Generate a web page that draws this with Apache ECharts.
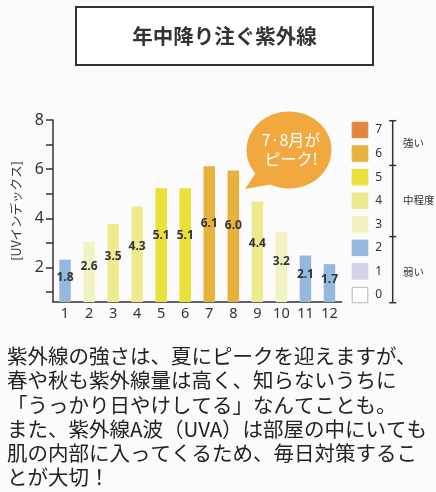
<!DOCTYPE html>
<html>
<head>
<meta charset="utf-8">
<script src="https://cdn.jsdelivr.net/npm/echarts@6/dist/echarts.min.js"></script>
<style>
html,body{margin:0;padding:0;background:#fbfbfb;}
#main{width:436px;height:492px;}
</style>
</head>
<body>
<div id="main"></div>
<script>
// ---- data ----
const months = ['1','2','3','4','5','6','7','8','9','10','11','12'];
// drawn bar heights (UV index scale)
const barHeights = [2.32, 3.05, 3.78, 4.48, 5.23, 5.23, 6.12, 5.95, 4.69, 3.44, 2.49, 2.14];
// printed values on the bars
const uvLabels = ['1.8','2.6','3.5','4.3','5.1','5.1','6.1','6.0','4.4','3.2','2.1','1.7'];
const yTickValues = [1,2,3,4,5,6,7,8];
const yLabelValues = [2,4,6,8];
const levelNames = ['0','1','2','3','4','5','6','7'];
const levelColors = ['#ffffff','#d3d3e8','#94b8de','#f4f2c0','#edea8e','#eae03a','#e7b23c','#e2843a'];
const levelBands = ['強い','中程度','弱い'];
const titleText = '年中降り注ぐ紫外線';
const axisName = '[UVインデックス]';
const bubbleText = '7·8月が\nピーク!';
const bodyLines = [
  '紫外線の強さは、夏にピークを迎えますが、',
  '春や秋も紫外線量は高く、知らないうちに',
  '「うっかり日やけしてる」なんてことも。',
  'また、紫外線A波（UVA）は部屋の中にいても',
  '肌の内部に入ってくるため、毎日対策するこ',
  'とが大切！'
];

const chart = echarts.init(document.getElementById('main'), null, {renderer:'canvas'});
const txt = '#333';
const sans = '"Noto Sans","Noto Sans CJK JP",sans-serif';
const cjk = '"Noto Sans CJK JP","Noto Sans",sans-serif';

const barData = barHeights.map((v,i)=>({
  value: v,
  itemStyle: {color: levelColors[Math.round(parseFloat(uvLabels[i]))]}
}));
const legendData = levelNames.map((n,i)=>({
  value: 1,
  itemStyle: {color: levelColors[i], borderColor: i===0 ? '#b5b5b5' : levelColors[i], borderWidth: 1}
}));

const bx = 392.7;
const bracketYs = [120.7, 165.4, 236.6, 302.7];

const option = {
  backgroundColor: '#fbfbfb',
  animation: false,
  grid: [
    {left: 53, right: 94.5, top: 120, bottom: 190},
    {left: 351.7, right: 67.7, top: 118.2, bottom: 185.2}
  ],
  xAxis: [
    {
      type: 'category', gridIndex: 0, data: months,
      axisTick: {show: false},
      axisLine: {lineStyle: {color: '#333', width: 1.5}},
      axisLabel: {color: txt, fontSize: 14.5, fontFamily: sans, margin: 5}
    },
    {type: 'value', gridIndex: 1, min: 0, max: 1, show: false}
  ],
  yAxis: [
    {
      type: 'value', gridIndex: 0, min: 0.6, max: 8,
      name: axisName, nameLocation: 'middle', nameGap: 30, nameRotate: 90,
      nameTextStyle: {color: txt, fontSize: 12.5, fontFamily: cjk},
      splitLine: {show: false},
      axisLine: {show: true, lineStyle: {color: '#333', width: 1.5}},
      axisTick: {show: true, length: 7, customValues: yTickValues, lineStyle: {color: '#333', width: 1.5}},
      axisLabel: {customValues: yLabelValues, color: txt, fontSize: 16, fontFamily: sans, margin: 9}
    },
    {
      type: 'category', gridIndex: 1, data: levelNames, position: 'right',
      axisLine: {show: false}, axisTick: {show: false},
      axisLabel: {color: txt, fontSize: 12, fontFamily: sans, margin: 7}
    }
  ],
  series: [
    {
      type: 'bar', xAxisIndex: 0, yAxisIndex: 0, data: barData, barWidth: 11.5,
      label: {
        show: true, position: ['50%','42%'], align: 'center', verticalAlign: 'middle',
        formatter: p => uvLabels[p.dataIndex],
        color: '#333', fontSize: 12, fontWeight: 'bold',
        fontFamily: '"Liberation Sans Narrow","Noto Sans",sans-serif'
      }
    },
    {
      type: 'bar', xAxisIndex: 1, yAxisIndex: 1, data: legendData, barWidth: 16.5, silent: true
    }
  ],
  graphic: [
    {type: 'rect', shape: {x: 76, y: 7, width: 297, height: 58},
     style: {fill: '#ffffff', stroke: '#333', lineWidth: 2}},
    {type: 'text', x: 224.5, y: 36,
     style: {text: titleText, fill: '#333', fontSize: 20.5, fontWeight: 'bold', fontFamily: cjk,
             align: 'center', verticalAlign: 'middle'}},
    // speech bubble
    {type: 'polygon', shape: {points: [[245,189],[257,171],[273,184]]}, style: {fill: '#f1a83e'}},
    {type: 'ellipse', shape: {cx: 289, cy: 150, rx: 42.5, ry: 38.5}, style: {fill: '#f1a83e'}},
    {type: 'text', x: 291, y: 149,
     style: {text: bubbleText, fill: '#fff', fontSize: 16, lineHeight: 19, fontFamily: cjk,
             align: 'center', verticalAlign: 'middle'}},
    // bracket
    {type: 'line', shape: {x1: bx, y1: bracketYs[0], x2: bx, y2: bracketYs[3]},
     style: {stroke: '#333', lineWidth: 1.5}},
    ...bracketYs.map(y => ({type: 'line', shape: {x1: bx-3.5, y1: y, x2: bx+3.5, y2: y},
      style: {stroke: '#333', lineWidth: 1.5}})),
    {type: 'text', x: 403, y: 143.3,
     style: {text: levelBands[0], fill: txt, fontSize: 10.5, fontFamily: cjk, verticalAlign: 'middle'}},
    {type: 'text', x: 403, y: 200,
     style: {text: levelBands[1], fill: txt, fontSize: 10.5, fontFamily: cjk, verticalAlign: 'middle'}},
    {type: 'text', x: 403, y: 271.7,
     style: {text: levelBands[2], fill: txt, fontSize: 10.5, fontFamily: cjk, verticalAlign: 'middle'}},
    // body paragraph
    {type: 'text', x: 7, y: 344,
     style: {text: bodyLines.join('\n'), fill: '#222', fontSize: 20.5, lineHeight: 24.3,
             fontFamily: cjk, verticalAlign: 'top'}}
  ]
};
chart.setOption(option);
</script>
</body>
</html>
